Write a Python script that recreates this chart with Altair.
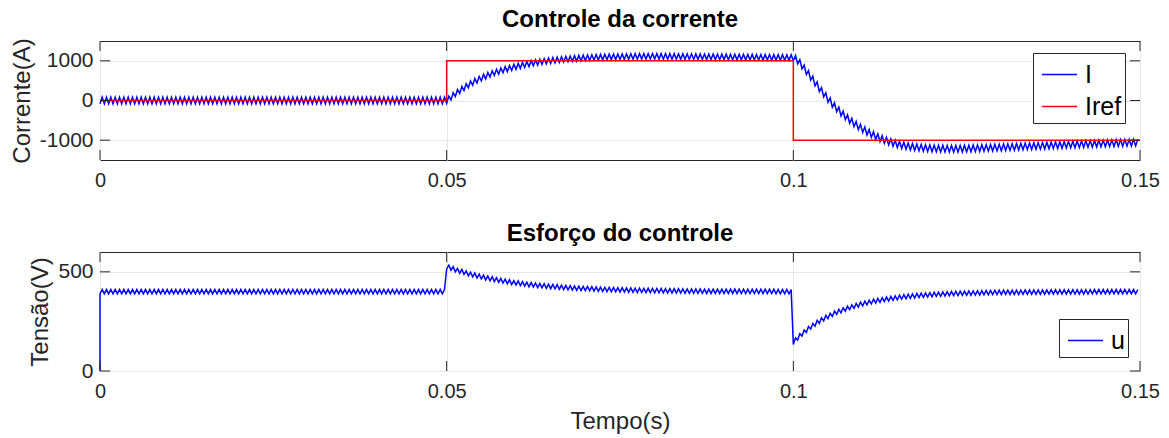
import altair as alt
import pandas as pd

# ---- sampling ---------------------------------------------------------------
PERIOD = 0.05 / 80                 # one switching period of the converter ripple
SEGMENT_START = [0.0, 0.05, 0.1]   # instants where the reference changes

X_TICKS = [0, 0.05, 0.1, 0.15]
I_TICKS = [-1000, 0, 1000]
U_TICKS = [0, 500]

# reference current (step profile)
iref_t = [0.0, 0.05, 0.05, 0.1, 0.1, 0.15]
iref_v = [0, 0, 1000, 1000, -1000, -1000]

# measured current I: valley at the start of each period, crest half a period later
i_valley_1 = [
    -85, -85, -85, -85, -85, -85, -85, -85, -85, -85,
    -85, -85, -85, -85, -85, -85, -85, -85, -85, -85,
    -85, -85, -85, -85, -85, -85, -85, -85, -85, -85,
    -85, -85, -85, -85, -85, -85, -85, -85, -85, -85,
    -85, -85, -85, -85, -85, -85, -85, -85, -85, -85,
    -85, -85, -85, -85, -85, -85, -85, -85, -85, -85,
    -85, -85, -85, -85, -85, -85, -85, -85, -85, -85,
    -85, -85, -85, -85, -85, -85, -85, -85, -85, -85,
]
i_crest_1 = [
    85, 85, 85, 85, 85, 85, 85, 85, 85, 85,
    85, 85, 85, 85, 85, 85, 85, 85, 85, 85,
    85, 85, 85, 85, 85, 85, 85, 85, 85, 85,
    85, 85, 85, 85, 85, 85, 85, 85, 85, 85,
    85, 85, 85, 85, 85, 85, 85, 85, 85, 85,
    85, 85, 85, 85, 85, 85, 85, 85, 85, 85,
    85, 85, 85, 85, 85, 85, 85, 85, 85, 85,
    85, 85, 85, 85, 85, 85, 85, 85, 85, 85,
]
i_valley_2 = [
    -70, 15, 100, 175, 250, 320, 385, 440, 495, 545,
    590, 630, 665, 698, 728, 758, 785, 810, 833, 855,
    875, 892, 908, 923, 936, 948, 959, 969, 978, 986,
    993, 1000, 1006, 1011, 1016, 1020, 1024, 1027, 1030, 1032,
    1034, 1036, 1038, 1040, 1042, 1043, 1044, 1044, 1044, 1043,
    1042, 1041, 1040, 1039, 1038, 1037, 1036, 1035, 1034, 1033,
    1032, 1031, 1030, 1029, 1028, 1027, 1026, 1025, 1024, 1023,
    1022, 1021, 1020, 1019, 1018, 1017, 1016, 1015, 1014, 1013,
]
i_crest_2 = [
    112, 197, 278, 353, 425, 492, 553, 608, 660, 707,
    750, 788, 821, 853, 883, 912, 937, 962, 984, 1005,
    1023, 1040, 1056, 1069, 1082, 1094, 1104, 1113, 1122, 1130,
    1137, 1143, 1148, 1153, 1158, 1162, 1166, 1169, 1171, 1173,
    1175, 1177, 1179, 1181, 1182, 1183, 1184, 1184, 1184, 1183,
    1182, 1181, 1180, 1179, 1178, 1177, 1176, 1175, 1174, 1173,
    1172, 1171, 1170, 1169, 1168, 1167, 1166, 1165, 1164, 1163,
    1162, 1161, 1160, 1159, 1158, 1157, 1156, 1155, 1154, 1153,
]
i_valley_3 = [
    998, 925, 795, 655, 515, 370, 225, 90, -45, -170,
    -285, -390, -485, -575, -660, -735, -805, -870, -930, -985,
    -1035, -1080, -1120, -1155, -1185, -1210, -1230, -1247, -1260, -1271,
    -1280, -1287, -1292, -1296, -1299, -1301, -1302, -1302, -1301, -1299,
    -1296, -1293, -1289, -1285, -1282, -1278, -1274, -1270, -1266, -1262,
    -1257, -1253, -1249, -1244, -1240, -1235, -1231, -1226, -1222, -1217,
    -1213, -1209, -1204, -1200, -1196, -1192, -1188, -1184, -1180, -1177,
    -1173, -1169, -1166, -1163, -1159, -1156, -1153, -1150, -1147, -1144,
]
i_crest_3 = [
    1132, 1030, 895, 755, 613, 468, 327, 192, 63, -58,
    -167, -268, -360, -447, -528, -600, -667, -730, -788, -840,
    -887, -930, -968, -1000, -1027, -1050, -1068, -1083, -1096, -1105,
    -1114, -1119, -1124, -1128, -1130, -1131, -1132, -1132, -1131, -1129,
    -1126, -1123, -1119, -1115, -1112, -1108, -1104, -1100, -1096, -1092,
    -1087, -1083, -1079, -1074, -1070, -1065, -1061, -1056, -1052, -1047,
    -1043, -1039, -1034, -1030, -1026, -1022, -1018, -1014, -1010, -1007,
    -1003, -999, -996, -993, -989, -986, -983, -980, -977, -974,
]

# control voltage u: starts at 0 V, then valley / crest per period
u_initial = 0
u_valley_1 = [
    389, 389, 389, 389, 389, 389, 389, 389, 389, 389,
    389, 389, 389, 389, 389, 389, 389, 389, 389, 389,
    389, 389, 389, 389, 389, 389, 389, 389, 389, 389,
    389, 389, 389, 389, 389, 389, 389, 389, 389, 389,
    389, 389, 389, 389, 389, 389, 389, 389, 389, 389,
    389, 389, 389, 389, 389, 389, 389, 389, 389, 389,
    389, 389, 389, 389, 389, 389, 389, 389, 389, 389,
    389, 389, 389, 389, 389, 389, 389, 389, 389, 389,
]
u_crest_1 = [
    411, 411, 411, 411, 411, 411, 411, 411, 411, 411,
    411, 411, 411, 411, 411, 411, 411, 411, 411, 411,
    411, 411, 411, 411, 411, 411, 411, 411, 411, 411,
    411, 411, 411, 411, 411, 411, 411, 411, 411, 411,
    411, 411, 411, 411, 411, 411, 411, 411, 411, 411,
    411, 411, 411, 411, 411, 411, 411, 411, 411, 411,
    411, 411, 411, 411, 411, 411, 411, 411, 411, 411,
    411, 411, 411, 411, 411, 411, 411, 411, 411, 411,
]
u_valley_2 = [
    516, 508, 500, 493, 487, 480, 475, 469, 464, 459,
    455, 451, 447, 443, 440, 436, 433, 431, 428, 425,
    423, 421, 419, 417, 415, 414, 412, 411, 409, 408,
    407, 406, 405, 404, 403, 402, 401, 400, 399, 399,
    398, 398, 397, 397, 396, 396, 395, 395, 394, 394,
    394, 393, 393, 393, 393, 392, 392, 392, 392, 392,
    391, 391, 391, 391, 391, 391, 391, 390, 390, 390,
    390, 390, 390, 390, 390, 390, 389, 389, 389, 389,
]
u_crest_2 = [
    534, 526, 518, 512, 505, 499, 494, 488, 483, 479,
    475, 471, 467, 463, 460, 456, 454, 451, 448, 446,
    444, 442, 440, 438, 436, 435, 433, 432, 430, 429,
    428, 427, 426, 425, 424, 423, 422, 421, 421, 420,
    420, 419, 419, 418, 418, 417, 417, 416, 416, 416,
    415, 415, 415, 415, 414, 414, 414, 414, 414, 413,
    413, 413, 413, 413, 413, 413, 413, 412, 412, 412,
    412, 412, 412, 412, 412, 412, 411, 411, 411, 411,
]
u_valley_3 = [
    134, 156, 176, 194, 211, 226, 240, 252, 264, 275,
    285, 293, 302, 309, 316, 322, 328, 333, 338, 342,
    346, 350, 353, 356, 359, 362, 364, 366, 368, 370,
    371, 373, 374, 376, 377, 378, 379, 380, 380, 381,
    382, 382, 383, 383, 384, 384, 385, 385, 385, 386,
    386, 386, 386, 387, 387, 387, 387, 387, 387, 388,
    388, 388, 388, 388, 388, 388, 388, 388, 388, 389,
    389, 389, 389, 389, 389, 389, 389, 389, 389, 389,
]
u_crest_3 = [
    167, 188, 207, 224, 240, 255, 268, 280, 291, 302,
    311, 319, 327, 334, 341, 347, 352, 357, 362, 366,
    370, 373, 376, 379, 382, 385, 387, 389, 391, 392,
    394, 395, 397, 398, 399, 400, 401, 402, 402, 403,
    404, 404, 405, 405, 406, 406, 407, 407, 407, 408,
    408, 408, 408, 409, 409, 409, 409, 409, 409, 410,
    410, 410, 410, 410, 410, 410, 410, 410, 410, 411,
    411, 411, 411, 411, 411, 411, 411, 411, 411, 411,
]


def ripple(segments):
    """Interleave valley/crest samples of each segment on the PWM clock."""
    t, v = [], []
    for t0, (valleys, crests) in zip(SEGMENT_START, segments):
        for j, (lo, hi) in enumerate(zip(valleys, crests)):
            t += [t0 + j * PERIOD, t0 + (j + 0.5) * PERIOD]
            v += [lo, hi]
    return t, v


def frame(t, v, name):
    return pd.DataFrame({"t": t, "val": v, "series": name, "idx": range(len(t))})


i_t, i_v = ripple([(i_valley_1, i_crest_1), (i_valley_2, i_crest_2), (i_valley_3, i_crest_3)])
u_t, u_v = ripple([(u_valley_1, u_crest_1), (u_valley_2, u_crest_2), (u_valley_3, u_crest_3)])

df_i = frame(i_t, i_v, "I")
df_ref = frame(iref_t, iref_v, "Iref")
df_u = frame([0.0] + u_t, [u_initial] + u_v, "u")

# ---- styling ----------------------------------------------------------------
FONT = "Liberation Sans"
TXT = "#262626"
GRID = "#e6e6e6"
BLUE = "#0000ff"
RED = "#ff0000"
W, H = 1040, 119
TICK_LEN = 10


def panel(lines, y_ticks, y_domain, y_title, x_title, title, legend_xy, domain, colors):
    xs = alt.Scale(domain=[0, 0.15], nice=False, zero=False)
    ys = alt.Scale(domain=y_domain, nice=False, zero=False)
    x_axis = alt.Axis(
        values=X_TICKS, labelExpr="'' + datum.value", ticks=False, domain=False,
        labelFlush=False, grid=True, gridColor=GRID, gridWidth=1, labelFont=FONT,
        labelFontSize=20, labelColor=TXT, labelPadding=10, title=x_title,
        titleFont=FONT, titleFontSize=24, titleFontWeight="normal", titleColor=TXT,
        titlePadding=8,
    )
    y_axis = alt.Axis(
        values=y_ticks, labelExpr="'' + datum.value", ticks=False, domain=False,
        labelFlush=False, grid=True, gridColor=GRID, gridWidth=1, labelFont=FONT,
        labelFontSize=21, labelColor=TXT, labelPadding=7, title=y_title,
        titleFont=FONT, titleFontSize=24, titleFontWeight="normal", titleColor=TXT,
        titlePadding=5,
    )
    color = alt.Color(
        "series:N",
        scale=alt.Scale(domain=domain, range=colors),
        legend=alt.Legend(
            orient="none", legendX=legend_xy[0], legendY=legend_xy[1], title=None,
            symbolType="stroke", symbolSize=1225, symbolStrokeWidth=1.5,
            symbolOffset=5, labelFont=FONT, labelFontSize=25, labelColor="#000000",
            labelOffset=7, strokeColor=TXT, fillColor="white", padding=3,
            rowPadding=0,
        ),
    )
    layers = [
        alt.Chart(df).mark_line(strokeWidth=1.5).encode(
            x=alt.X("t:Q", scale=xs, axis=x_axis),
            y=alt.Y("val:Q", scale=ys, axis=y_axis),
            color=color,
            order=alt.Order("idx:Q"),
        )
        for df in lines
    ]
    xt = alt.Chart(pd.DataFrame({"t": X_TICKS})).mark_rule(color=TXT, strokeWidth=1)
    yt = alt.Chart(pd.DataFrame({"val": y_ticks})).mark_rule(color=TXT, strokeWidth=1)
    xenc = alt.X("t:Q", scale=xs, axis=x_axis)
    yenc = alt.Y("val:Q", scale=ys, axis=y_axis)
    layers += [
        xt.encode(x=xenc, y=alt.value(H), y2=alt.value(H - TICK_LEN)),
        xt.encode(x=xenc, y=alt.value(0), y2=alt.value(TICK_LEN)),
        yt.encode(y=yenc, x=alt.value(0), x2=alt.value(TICK_LEN)),
        yt.encode(y=yenc, x=alt.value(W), x2=alt.value(W - TICK_LEN)),
    ]
    return alt.layer(*layers).properties(
        width=W,
        height=H,
        title=alt.Title(title, font=FONT, fontSize=24, fontWeight="bold",
                        color="#000000", offset=6),
    )


top = panel([df_i, df_ref], I_TICKS, [-1500, 1500], "Corrente(A)", None,
            "Controle da corrente", (933, 12), ["I", "Iref"], [BLUE, RED])
bottom = panel([df_u], U_TICKS, [0, 600], "Tensão(V)", "Tempo(s)",
               "Esforço do controle", (959, 67), ["u"], [BLUE])

chart = (
    alt.vconcat(top, bottom, spacing=30)
    .resolve_scale(color="independent")
    .properties(padding={"left": 9, "top": 7, "right": 5, "bottom": 5})
    .configure_view(stroke=TXT, strokeWidth=1)
)

chart.save("out.html", embed_options={"renderer": "svg", "actions": False})
